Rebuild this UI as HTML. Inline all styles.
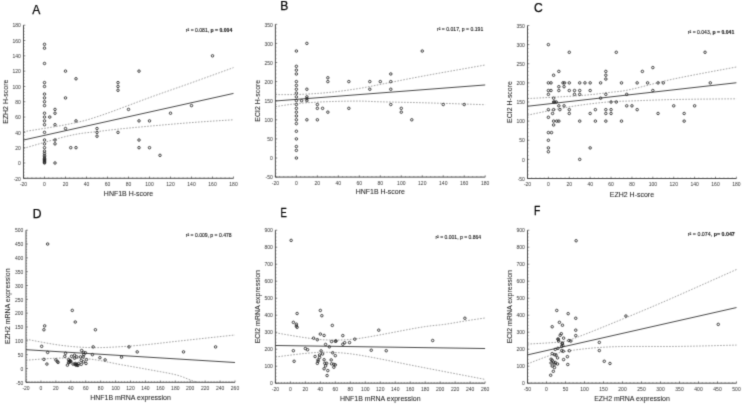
<!DOCTYPE html>
<html><head><meta charset="utf-8"><style>
html,body{margin:0;padding:0;background:#fff;}
svg{display:block;}
text{font-family:"Liberation Sans", sans-serif;fill:#222;}
.let{font-size:12.1px;fill:#000;stroke:#000;stroke-width:0.25px;}
.tl{font-size:6.2px;fill:#333;}
.at{font-size:7.4px;fill:#222;stroke:#222;stroke-width:0.06px;}
.an{font-size:5px;fill:#111;stroke:#111;stroke-width:0.1px;}
.ax{fill:none;stroke:#333;stroke-width:0.9;}
.tk{fill:none;stroke:#333;stroke-width:0.6;}
.mtk{fill:none;stroke:#555;stroke-width:0.5;}
.cb{fill:none;stroke:#777;stroke-width:0.7;stroke-dasharray:1.6 1.4;}
.rl{stroke:#333;stroke-width:0.9;}
.pt circle{fill:none;stroke:#222;stroke-width:0.85;}
</style></head><body>
<svg width="742" height="404" viewBox="0 0 742 404">
<defs><filter id="bl" x="-5" y="-5" width="752" height="414" filterUnits="userSpaceOnUse" color-interpolation-filters="sRGB"><feConvolveMatrix order="3" kernelMatrix="0.0192 0.1001 0.0192 0.1001 0.5228 0.1001 0.0192 0.1001 0.0192" divisor="1" edgeMode="duplicate"/></filter></defs>
<g filter="url(#bl)">
<rect width="742" height="404" fill="#fff"/>
<clipPath id="clipA"><rect x="23.5" y="23.2" width="211" height="155.1"/></clipPath>
<text transform="translate(32.3,13.8) scale(1,1)" class="let">A</text>
<path class="ax" d="M23.5,25.2V178.3H233.5"/>
<path class="tk" d="M23.5,178.3v-1.8M44.5,178.3v-1.8M65.5,178.3v-1.8M86.5,178.3v-1.8M107.5,178.3v-1.8M128.5,178.3v-1.8M149.5,178.3v-1.8M170.5,178.3v-1.8M191.5,178.3v-1.8M212.5,178.3v-1.8M233.5,178.3v-1.8M23.5,178.3h1.8M23.5,162.99h1.8M23.5,147.68h1.8M23.5,132.37h1.8M23.5,117.06h1.8M23.5,101.75h1.8M23.5,86.44h1.8M23.5,71.13h1.8M23.5,55.82h1.8M23.5,40.51h1.8M23.5,25.2h1.8"/>
<path class="mtk" d="M27.7,178.3v-1.1M31.9,178.3v-1.1M36.1,178.3v-1.1M40.3,178.3v-1.1M48.7,178.3v-1.1M52.9,178.3v-1.1M57.1,178.3v-1.1M61.3,178.3v-1.1M69.7,178.3v-1.1M73.9,178.3v-1.1M78.1,178.3v-1.1M82.3,178.3v-1.1M90.7,178.3v-1.1M94.9,178.3v-1.1M99.1,178.3v-1.1M103.3,178.3v-1.1M111.7,178.3v-1.1M115.9,178.3v-1.1M120.1,178.3v-1.1M124.3,178.3v-1.1M132.7,178.3v-1.1M136.9,178.3v-1.1M141.1,178.3v-1.1M145.3,178.3v-1.1M153.7,178.3v-1.1M157.9,178.3v-1.1M162.1,178.3v-1.1M166.3,178.3v-1.1M174.7,178.3v-1.1M178.9,178.3v-1.1M183.1,178.3v-1.1M187.3,178.3v-1.1M195.7,178.3v-1.1M199.9,178.3v-1.1M204.1,178.3v-1.1M208.3,178.3v-1.1M216.7,178.3v-1.1M220.9,178.3v-1.1M225.1,178.3v-1.1M229.3,178.3v-1.1M23.5,175.24h1.1M23.5,172.18h1.1M23.5,169.11h1.1M23.5,166.05h1.1M23.5,159.93h1.1M23.5,156.87h1.1M23.5,153.8h1.1M23.5,150.74h1.1M23.5,144.62h1.1M23.5,141.56h1.1M23.5,138.49h1.1M23.5,135.43h1.1M23.5,129.31h1.1M23.5,126.25h1.1M23.5,123.18h1.1M23.5,120.12h1.1M23.5,114h1.1M23.5,110.94h1.1M23.5,107.87h1.1M23.5,104.81h1.1M23.5,98.69h1.1M23.5,95.63h1.1M23.5,92.56h1.1M23.5,89.5h1.1M23.5,83.38h1.1M23.5,80.32h1.1M23.5,77.25h1.1M23.5,74.19h1.1M23.5,68.07h1.1M23.5,65.01h1.1M23.5,61.94h1.1M23.5,58.88h1.1M23.5,52.76h1.1M23.5,49.7h1.1M23.5,46.63h1.1M23.5,43.57h1.1M23.5,37.45h1.1M23.5,34.39h1.1M23.5,31.32h1.1M23.5,28.26h1.1"/>
<text class="tl" transform="translate(23.5,185.9) scale(0.81,1)" text-anchor="middle">-20</text>
<text class="tl" transform="translate(44.5,185.9) scale(0.81,1)" text-anchor="middle">0</text>
<text class="tl" transform="translate(65.5,185.9) scale(0.81,1)" text-anchor="middle">20</text>
<text class="tl" transform="translate(86.5,185.9) scale(0.81,1)" text-anchor="middle">40</text>
<text class="tl" transform="translate(107.5,185.9) scale(0.81,1)" text-anchor="middle">60</text>
<text class="tl" transform="translate(128.5,185.9) scale(0.81,1)" text-anchor="middle">80</text>
<text class="tl" transform="translate(149.5,185.9) scale(0.81,1)" text-anchor="middle">100</text>
<text class="tl" transform="translate(170.5,185.9) scale(0.81,1)" text-anchor="middle">120</text>
<text class="tl" transform="translate(191.5,185.9) scale(0.81,1)" text-anchor="middle">140</text>
<text class="tl" transform="translate(212.5,185.9) scale(0.81,1)" text-anchor="middle">160</text>
<text class="tl" transform="translate(233.5,185.9) scale(0.81,1)" text-anchor="middle">180</text>
<text class="tl" transform="translate(20.9,180.5) scale(0.81,1)" text-anchor="end">-20</text>
<text class="tl" transform="translate(20.9,165.19) scale(0.81,1)" text-anchor="end">0</text>
<text class="tl" transform="translate(20.9,149.88) scale(0.81,1)" text-anchor="end">20</text>
<text class="tl" transform="translate(20.9,134.57) scale(0.81,1)" text-anchor="end">40</text>
<text class="tl" transform="translate(20.9,119.26) scale(0.81,1)" text-anchor="end">60</text>
<text class="tl" transform="translate(20.9,103.95) scale(0.81,1)" text-anchor="end">80</text>
<text class="tl" transform="translate(20.9,88.64) scale(0.81,1)" text-anchor="end">100</text>
<text class="tl" transform="translate(20.9,73.33) scale(0.81,1)" text-anchor="end">120</text>
<text class="tl" transform="translate(20.9,58.02) scale(0.81,1)" text-anchor="end">140</text>
<text class="tl" transform="translate(20.9,42.71) scale(0.81,1)" text-anchor="end">160</text>
<text class="tl" transform="translate(20.9,27.4) scale(0.81,1)" text-anchor="end">180</text>
<text class="at" transform="translate(128.5,196.3) scale(0.945,1)" text-anchor="middle">HNF1B H-score</text>
<text class="at" transform="translate(7.9,101.75) rotate(-90) scale(0.945,1)" text-anchor="middle">EZH2 H-score</text>
<text class="an" x="185.85" y="31.7" textLength="46.4" lengthAdjust="spacingAndGlyphs">r² = 0.081, <tspan font-weight="bold">p = 0.004</tspan></text>
<g clip-path="url(#clipA)">
<polyline class="cb" points="23.5,131.7 27.2,131.1 32.25,130.3 38.27,129.36 44.89,128.3 51.75,127.18 58.47,126.05 64.67,124.94 70,123.9 74.38,122.98 78.12,122.16 81.46,121.38 84.61,120.57 87.79,119.68 91.22,118.64 95.12,117.4 99.7,115.9 105.07,114.06 111.07,111.91 117.51,109.54 124.21,107.03 130.99,104.48 137.67,101.96 144.06,99.57 150,97.4 155.47,95.44 160.64,93.6 165.6,91.86 170.43,90.17 175.2,88.51 180,86.83 184.9,85.11 190,83.3 195.57,81.31 201.65,79.12 207.97,76.84 214.25,74.57 220.22,72.41 225.6,70.46 230.12,68.82 233.5,67.6"/>
<polyline class="cb" points="23.5,148.4 27.2,147.35 32.25,145.88 38.27,144.13 44.89,142.21 51.75,140.27 58.47,138.42 64.67,136.78 70,135.5 74.52,134.55 78.61,133.82 82.37,133.25 85.9,132.8 89.3,132.43 92.67,132.08 96.1,131.72 99.7,131.3 103.2,130.86 106.4,130.46 109.48,130.08 112.62,129.72 116,129.34 119.8,128.94 124.21,128.5 129.4,128 135.61,127.42 142.78,126.76 150.61,126.05 158.84,125.32 167.17,124.6 175.33,123.9 183.03,123.26 190,122.7 196.55,122.2 203.1,121.74 209.48,121.31 215.54,120.92 221.12,120.57 226.08,120.26 230.26,120.01 233.5,119.8"/>
<line class="rl" x1="23.5" y1="140.03" x2="233.5" y2="93.41"/>
</g>
<g class="pt"><circle cx="44.5" cy="162.99" r="1.25"/><circle cx="44.5" cy="162.22" r="1.25"/><circle cx="44.5" cy="161.46" r="1.25"/><circle cx="44.5" cy="160.69" r="1.25"/><circle cx="44.5" cy="159.93" r="1.25"/><circle cx="44.5" cy="159.16" r="1.25"/><circle cx="44.5" cy="158.4" r="1.25"/><circle cx="44.5" cy="156.87" r="1.25"/><circle cx="44.5" cy="155.34" r="1.25"/><circle cx="44.5" cy="153.42" r="1.25"/><circle cx="44.5" cy="151.12" r="1.25"/><circle cx="44.5" cy="147.68" r="1.25"/><circle cx="44.5" cy="143.85" r="1.25"/><circle cx="44.5" cy="140.03" r="1.25"/><circle cx="44.5" cy="132.37" r="1.25"/><circle cx="44.5" cy="124.72" r="1.25"/><circle cx="44.5" cy="120.89" r="1.25"/><circle cx="44.5" cy="117.06" r="1.25"/><circle cx="44.5" cy="113.23" r="1.25"/><circle cx="44.5" cy="105.58" r="1.25"/><circle cx="44.5" cy="101.75" r="1.25"/><circle cx="44.5" cy="97.92" r="1.25"/><circle cx="44.5" cy="94.09" r="1.25"/><circle cx="44.5" cy="86.44" r="1.25"/><circle cx="44.5" cy="82.61" r="1.25"/><circle cx="44.5" cy="63.47" r="1.25"/><circle cx="44.5" cy="48.16" r="1.25"/><circle cx="44.5" cy="44.34" r="1.25"/><circle cx="49.75" cy="117.06" r="1.25"/><circle cx="55" cy="162.99" r="1.25"/><circle cx="55" cy="143.85" r="1.25"/><circle cx="55" cy="140.03" r="1.25"/><circle cx="55" cy="124.72" r="1.25"/><circle cx="55" cy="113.23" r="1.25"/><circle cx="55" cy="109.41" r="1.25"/><circle cx="65.5" cy="128.54" r="1.25"/><circle cx="65.5" cy="97.92" r="1.25"/><circle cx="65.5" cy="71.13" r="1.25"/><circle cx="70.75" cy="147.68" r="1.25"/><circle cx="76" cy="147.68" r="1.25"/><circle cx="76" cy="120.89" r="1.25"/><circle cx="76" cy="78.78" r="1.25"/><circle cx="97" cy="136.2" r="1.25"/><circle cx="97" cy="132.37" r="1.25"/><circle cx="97" cy="128.54" r="1.25"/><circle cx="118" cy="132.37" r="1.25"/><circle cx="118" cy="90.27" r="1.25"/><circle cx="118" cy="86.44" r="1.25"/><circle cx="118" cy="82.61" r="1.25"/><circle cx="128.5" cy="109.41" r="1.25"/><circle cx="139" cy="147.68" r="1.25"/><circle cx="139" cy="140.03" r="1.25"/><circle cx="139" cy="120.89" r="1.25"/><circle cx="139" cy="71.13" r="1.25"/><circle cx="149.5" cy="147.68" r="1.25"/><circle cx="149.5" cy="120.89" r="1.25"/><circle cx="160" cy="155.34" r="1.25"/><circle cx="170.5" cy="113.23" r="1.25"/><circle cx="191.5" cy="105.58" r="1.25"/><circle cx="212.5" cy="55.82" r="1.25"/></g>
<clipPath id="clipB"><rect x="275.4" y="22.3" width="210.8" height="154.8"/></clipPath>
<text transform="translate(280.2,10.3) scale(1,1)" class="let">B</text>
<path class="ax" d="M275.4,24.3V177.1H485.2"/>
<path class="tk" d="M275.4,177.1v-1.8M296.38,177.1v-1.8M317.36,177.1v-1.8M338.34,177.1v-1.8M359.32,177.1v-1.8M380.3,177.1v-1.8M401.28,177.1v-1.8M422.26,177.1v-1.8M443.24,177.1v-1.8M464.22,177.1v-1.8M485.2,177.1v-1.8M275.4,177.1h1.8M275.4,158h1.8M275.4,138.9h1.8M275.4,119.8h1.8M275.4,100.7h1.8M275.4,81.6h1.8M275.4,62.5h1.8M275.4,43.4h1.8M275.4,24.3h1.8"/>
<path class="mtk" d="M279.6,177.1v-1.1M283.79,177.1v-1.1M287.99,177.1v-1.1M292.18,177.1v-1.1M300.58,177.1v-1.1M304.77,177.1v-1.1M308.97,177.1v-1.1M313.16,177.1v-1.1M321.56,177.1v-1.1M325.75,177.1v-1.1M329.95,177.1v-1.1M334.14,177.1v-1.1M342.54,177.1v-1.1M346.73,177.1v-1.1M350.93,177.1v-1.1M355.12,177.1v-1.1M363.52,177.1v-1.1M367.71,177.1v-1.1M371.91,177.1v-1.1M376.1,177.1v-1.1M384.5,177.1v-1.1M388.69,177.1v-1.1M392.89,177.1v-1.1M397.08,177.1v-1.1M405.48,177.1v-1.1M409.67,177.1v-1.1M413.87,177.1v-1.1M418.06,177.1v-1.1M426.46,177.1v-1.1M430.65,177.1v-1.1M434.85,177.1v-1.1M439.04,177.1v-1.1M447.44,177.1v-1.1M451.63,177.1v-1.1M455.83,177.1v-1.1M460.02,177.1v-1.1M468.42,177.1v-1.1M472.61,177.1v-1.1M476.81,177.1v-1.1M481,177.1v-1.1M275.4,173.28h1.1M275.4,169.46h1.1M275.4,165.64h1.1M275.4,161.82h1.1M275.4,154.18h1.1M275.4,150.36h1.1M275.4,146.54h1.1M275.4,142.72h1.1M275.4,135.08h1.1M275.4,131.26h1.1M275.4,127.44h1.1M275.4,123.62h1.1M275.4,115.98h1.1M275.4,112.16h1.1M275.4,108.34h1.1M275.4,104.52h1.1M275.4,96.88h1.1M275.4,93.06h1.1M275.4,89.24h1.1M275.4,85.42h1.1M275.4,77.78h1.1M275.4,73.96h1.1M275.4,70.14h1.1M275.4,66.32h1.1M275.4,58.68h1.1M275.4,54.86h1.1M275.4,51.04h1.1M275.4,47.22h1.1M275.4,39.58h1.1M275.4,35.76h1.1M275.4,31.94h1.1M275.4,28.12h1.1"/>
<text class="tl" transform="translate(275.4,184.7) scale(0.81,1)" text-anchor="middle">-20</text>
<text class="tl" transform="translate(296.38,184.7) scale(0.81,1)" text-anchor="middle">0</text>
<text class="tl" transform="translate(317.36,184.7) scale(0.81,1)" text-anchor="middle">20</text>
<text class="tl" transform="translate(338.34,184.7) scale(0.81,1)" text-anchor="middle">40</text>
<text class="tl" transform="translate(359.32,184.7) scale(0.81,1)" text-anchor="middle">60</text>
<text class="tl" transform="translate(380.3,184.7) scale(0.81,1)" text-anchor="middle">80</text>
<text class="tl" transform="translate(401.28,184.7) scale(0.81,1)" text-anchor="middle">100</text>
<text class="tl" transform="translate(422.26,184.7) scale(0.81,1)" text-anchor="middle">120</text>
<text class="tl" transform="translate(443.24,184.7) scale(0.81,1)" text-anchor="middle">140</text>
<text class="tl" transform="translate(464.22,184.7) scale(0.81,1)" text-anchor="middle">160</text>
<text class="tl" transform="translate(485.2,184.7) scale(0.81,1)" text-anchor="middle">180</text>
<text class="tl" transform="translate(272.8,179.3) scale(0.81,1)" text-anchor="end">-50</text>
<text class="tl" transform="translate(272.8,160.2) scale(0.81,1)" text-anchor="end">0</text>
<text class="tl" transform="translate(272.8,141.1) scale(0.81,1)" text-anchor="end">50</text>
<text class="tl" transform="translate(272.8,122) scale(0.81,1)" text-anchor="end">100</text>
<text class="tl" transform="translate(272.8,102.9) scale(0.81,1)" text-anchor="end">150</text>
<text class="tl" transform="translate(272.8,83.8) scale(0.81,1)" text-anchor="end">200</text>
<text class="tl" transform="translate(272.8,64.7) scale(0.81,1)" text-anchor="end">250</text>
<text class="tl" transform="translate(272.8,45.6) scale(0.81,1)" text-anchor="end">300</text>
<text class="tl" transform="translate(272.8,26.5) scale(0.81,1)" text-anchor="end">350</text>
<text class="at" transform="translate(380.3,194.4) scale(0.945,1)" text-anchor="middle">HNF1B H-score</text>
<text class="at" transform="translate(259.8,100.7) rotate(-90) scale(0.945,1)" text-anchor="middle">ECI2 H-score</text>
<text class="an" x="437.05" y="30.9" textLength="46.2" lengthAdjust="spacingAndGlyphs">r² = 0.017, <tspan font-weight="normal">p = 0.191</tspan></text>
<g clip-path="url(#clipB)">
<polyline class="cb" points="275.4,94.6 277.26,94.6 279.7,94.61 282.6,94.62 285.84,94.62 289.32,94.62 292.91,94.58 296.51,94.51 300,94.4 303.47,94.25 307.07,94.07 310.76,93.87 314.53,93.64 318.34,93.38 322.16,93.08 325.95,92.76 329.7,92.4 333.45,92 337.27,91.55 341.11,91.07 344.93,90.56 348.71,90.02 352.4,89.48 355.98,88.94 359.4,88.4 362.52,87.89 365.31,87.39 367.91,86.91 370.46,86.41 373.11,85.87 375.98,85.29 379.24,84.64 383,83.9 387.2,83.08 391.67,82.19 396.41,81.24 401.43,80.24 406.74,79.19 412.36,78.1 418.27,76.97 424.5,75.8 431.58,74.51 439.75,73.04 448.52,71.47 457.44,69.89 466.04,68.38 473.84,67 480.39,65.85 485.2,65"/>
<polyline class="cb" points="275.4,106.6 277.26,106.33 279.7,105.97 282.6,105.53 285.84,105.06 289.32,104.57 292.91,104.09 296.51,103.66 300,103.3 303.47,103 307.07,102.73 310.76,102.49 314.53,102.28 318.34,102.08 322.16,101.9 325.95,101.74 329.7,101.6 333.47,101.47 337.34,101.36 341.24,101.27 345.12,101.2 348.93,101.15 352.61,101.11 356.12,101.1 359.4,101.1 362.25,101.13 364.63,101.18 366.74,101.26 368.77,101.36 370.92,101.46 373.38,101.58 376.34,101.69 380,101.8 384.31,101.9 389.06,102.01 394.23,102.11 399.74,102.22 405.58,102.35 411.68,102.48 418,102.63 424.5,102.8 431.73,103.01 439.96,103.26 448.74,103.53 457.63,103.81 466.17,104.09 473.91,104.34 480.41,104.55 485.2,104.7"/>
<line class="rl" x1="275.4" y1="100.97" x2="485.2" y2="84.96"/>
</g>
<g class="pt"><circle cx="296.38" cy="158" r="1.25"/><circle cx="296.38" cy="150.36" r="1.25"/><circle cx="296.38" cy="146.54" r="1.25"/><circle cx="296.38" cy="138.9" r="1.25"/><circle cx="296.38" cy="131.26" r="1.25"/><circle cx="296.38" cy="123.62" r="1.25"/><circle cx="296.38" cy="119.8" r="1.25"/><circle cx="296.38" cy="115.98" r="1.25"/><circle cx="296.38" cy="112.16" r="1.25"/><circle cx="296.38" cy="108.34" r="1.25"/><circle cx="296.38" cy="104.52" r="1.25"/><circle cx="296.38" cy="100.7" r="1.25"/><circle cx="296.38" cy="96.88" r="1.25"/><circle cx="296.38" cy="93.06" r="1.25"/><circle cx="296.38" cy="89.24" r="1.25"/><circle cx="296.38" cy="85.42" r="1.25"/><circle cx="296.38" cy="81.6" r="1.25"/><circle cx="296.38" cy="73.96" r="1.25"/><circle cx="296.38" cy="70.14" r="1.25"/><circle cx="296.38" cy="66.32" r="1.25"/><circle cx="296.38" cy="51.04" r="1.25"/><circle cx="301.62" cy="100.7" r="1.25"/><circle cx="306.87" cy="119.8" r="1.25"/><circle cx="306.87" cy="100.7" r="1.25"/><circle cx="306.87" cy="98.79" r="1.25"/><circle cx="306.87" cy="96.88" r="1.25"/><circle cx="306.87" cy="89.24" r="1.25"/><circle cx="306.87" cy="43.4" r="1.25"/><circle cx="317.36" cy="119.8" r="1.25"/><circle cx="317.36" cy="108.34" r="1.25"/><circle cx="317.36" cy="104.52" r="1.25"/><circle cx="322.6" cy="108.34" r="1.25"/><circle cx="327.85" cy="112.16" r="1.25"/><circle cx="327.85" cy="81.6" r="1.25"/><circle cx="327.85" cy="77.78" r="1.25"/><circle cx="348.83" cy="108.34" r="1.25"/><circle cx="348.83" cy="81.6" r="1.25"/><circle cx="369.81" cy="89.24" r="1.25"/><circle cx="369.81" cy="81.6" r="1.25"/><circle cx="380.3" cy="81.6" r="1.25"/><circle cx="390.79" cy="104.52" r="1.25"/><circle cx="390.79" cy="89.24" r="1.25"/><circle cx="390.79" cy="81.6" r="1.25"/><circle cx="390.79" cy="73.96" r="1.25"/><circle cx="401.28" cy="112.16" r="1.25"/><circle cx="401.28" cy="108.34" r="1.25"/><circle cx="411.77" cy="119.8" r="1.25"/><circle cx="422.26" cy="51.04" r="1.25"/><circle cx="443.24" cy="104.52" r="1.25"/><circle cx="464.22" cy="104.52" r="1.25"/></g>
<clipPath id="clipC"><rect x="527.5" y="23.5" width="209.9" height="155"/></clipPath>
<text transform="translate(534,12.2) scale(1,1)" class="let">C</text>
<path class="ax" d="M527.5,25.5V178.5H736.4"/>
<path class="tk" d="M527.5,178.5v-1.8M548.39,178.5v-1.8M569.28,178.5v-1.8M590.17,178.5v-1.8M611.06,178.5v-1.8M631.95,178.5v-1.8M652.84,178.5v-1.8M673.73,178.5v-1.8M694.62,178.5v-1.8M715.51,178.5v-1.8M736.4,178.5v-1.8M527.5,178.5h1.8M527.5,159.38h1.8M527.5,140.25h1.8M527.5,121.12h1.8M527.5,102h1.8M527.5,82.88h1.8M527.5,63.75h1.8M527.5,44.62h1.8M527.5,25.5h1.8"/>
<path class="mtk" d="M531.68,178.5v-1.1M535.86,178.5v-1.1M540.03,178.5v-1.1M544.21,178.5v-1.1M552.57,178.5v-1.1M556.75,178.5v-1.1M560.92,178.5v-1.1M565.1,178.5v-1.1M573.46,178.5v-1.1M577.64,178.5v-1.1M581.81,178.5v-1.1M585.99,178.5v-1.1M594.35,178.5v-1.1M598.53,178.5v-1.1M602.7,178.5v-1.1M606.88,178.5v-1.1M615.24,178.5v-1.1M619.42,178.5v-1.1M623.59,178.5v-1.1M627.77,178.5v-1.1M636.13,178.5v-1.1M640.31,178.5v-1.1M644.48,178.5v-1.1M648.66,178.5v-1.1M657.02,178.5v-1.1M661.2,178.5v-1.1M665.37,178.5v-1.1M669.55,178.5v-1.1M677.91,178.5v-1.1M682.09,178.5v-1.1M686.26,178.5v-1.1M690.44,178.5v-1.1M698.8,178.5v-1.1M702.98,178.5v-1.1M707.15,178.5v-1.1M711.33,178.5v-1.1M719.69,178.5v-1.1M723.87,178.5v-1.1M728.04,178.5v-1.1M732.22,178.5v-1.1M527.5,174.68h1.1M527.5,170.85h1.1M527.5,167.03h1.1M527.5,163.2h1.1M527.5,155.55h1.1M527.5,151.72h1.1M527.5,147.9h1.1M527.5,144.07h1.1M527.5,136.43h1.1M527.5,132.6h1.1M527.5,128.78h1.1M527.5,124.95h1.1M527.5,117.3h1.1M527.5,113.47h1.1M527.5,109.65h1.1M527.5,105.83h1.1M527.5,98.17h1.1M527.5,94.35h1.1M527.5,90.53h1.1M527.5,86.7h1.1M527.5,79.05h1.1M527.5,75.22h1.1M527.5,71.4h1.1M527.5,67.58h1.1M527.5,59.92h1.1M527.5,56.1h1.1M527.5,52.28h1.1M527.5,48.45h1.1M527.5,40.8h1.1M527.5,36.97h1.1M527.5,33.15h1.1M527.5,29.32h1.1"/>
<text class="tl" transform="translate(527.5,186.1) scale(0.81,1)" text-anchor="middle">-20</text>
<text class="tl" transform="translate(548.39,186.1) scale(0.81,1)" text-anchor="middle">0</text>
<text class="tl" transform="translate(569.28,186.1) scale(0.81,1)" text-anchor="middle">20</text>
<text class="tl" transform="translate(590.17,186.1) scale(0.81,1)" text-anchor="middle">40</text>
<text class="tl" transform="translate(611.06,186.1) scale(0.81,1)" text-anchor="middle">60</text>
<text class="tl" transform="translate(631.95,186.1) scale(0.81,1)" text-anchor="middle">80</text>
<text class="tl" transform="translate(652.84,186.1) scale(0.81,1)" text-anchor="middle">100</text>
<text class="tl" transform="translate(673.73,186.1) scale(0.81,1)" text-anchor="middle">120</text>
<text class="tl" transform="translate(694.62,186.1) scale(0.81,1)" text-anchor="middle">140</text>
<text class="tl" transform="translate(715.51,186.1) scale(0.81,1)" text-anchor="middle">160</text>
<text class="tl" transform="translate(736.4,186.1) scale(0.81,1)" text-anchor="middle">180</text>
<text class="tl" transform="translate(524.9,180.7) scale(0.81,1)" text-anchor="end">-50</text>
<text class="tl" transform="translate(524.9,161.57) scale(0.81,1)" text-anchor="end">0</text>
<text class="tl" transform="translate(524.9,142.45) scale(0.81,1)" text-anchor="end">50</text>
<text class="tl" transform="translate(524.9,123.33) scale(0.81,1)" text-anchor="end">100</text>
<text class="tl" transform="translate(524.9,104.2) scale(0.81,1)" text-anchor="end">150</text>
<text class="tl" transform="translate(524.9,85.08) scale(0.81,1)" text-anchor="end">200</text>
<text class="tl" transform="translate(524.9,65.95) scale(0.81,1)" text-anchor="end">250</text>
<text class="tl" transform="translate(524.9,46.83) scale(0.81,1)" text-anchor="end">300</text>
<text class="tl" transform="translate(524.9,27.7) scale(0.81,1)" text-anchor="end">350</text>
<text class="at" transform="translate(631.95,196.5) scale(0.945,1)" text-anchor="middle">EZH2 H-score</text>
<text class="at" transform="translate(511.9,102) rotate(-90) scale(0.945,1)" text-anchor="middle">ECI2 H-score</text>
<text class="an" x="687.85" y="34" textLength="46.4" lengthAdjust="spacingAndGlyphs">r² = 0.043, <tspan font-weight="bold">p = 0.041</tspan></text>
<g clip-path="url(#clipC)">
<polyline class="cb" points="527.5,98.6 531.71,98.37 537.47,98.07 544.34,97.7 551.89,97.3 559.68,96.87 567.25,96.43 574.17,96.01 580,95.6 584.87,95.21 589.25,94.8 593.22,94.4 596.86,93.99 600.25,93.58 603.47,93.18 606.59,92.78 609.7,92.4 612.52,92.09 614.87,91.86 616.94,91.67 618.93,91.48 621.03,91.22 623.44,90.85 626.37,90.33 630,89.6 634.29,88.64 639.02,87.49 644.15,86.18 649.65,84.76 655.47,83.27 661.58,81.76 667.94,80.25 674.5,78.8 681.83,77.29 690.2,75.64 699.16,73.93 708.23,72.23 716.96,70.6 724.87,69.14 731.51,67.92 736.4,67"/>
<polyline class="cb" points="527.5,115.2 529.64,114.75 532.5,114.14 535.91,113.42 539.69,112.62 543.66,111.79 547.66,110.96 551.49,110.18 555,109.5 558.21,108.89 561.32,108.31 564.35,107.75 567.36,107.21 570.39,106.69 573.48,106.18 576.67,105.68 580,105.2 583.55,104.71 587.31,104.23 591.21,103.74 595.14,103.28 599.04,102.85 602.83,102.45 606.41,102.09 609.7,101.8 612.52,101.58 614.87,101.43 616.94,101.34 618.93,101.28 621.03,101.24 623.44,101.19 626.37,101.12 630,101 634.29,100.84 639.02,100.66 644.15,100.45 649.65,100.24 655.47,100.03 661.58,99.84 667.94,99.65 674.5,99.5 681.83,99.37 690.2,99.25 699.16,99.15 708.23,99.06 716.96,98.98 724.87,98.91 731.51,98.85 736.4,98.8"/>
<line class="rl" x1="527.5" y1="106.25" x2="736.4" y2="82.76"/>
</g>
<g class="pt"><circle cx="548.39" cy="44.62" r="1.25"/><circle cx="569.28" cy="52.28" r="1.25"/><circle cx="616.28" cy="52.28" r="1.25"/><circle cx="705.06" cy="52.28" r="1.25"/><circle cx="652.84" cy="67.58" r="1.25"/><circle cx="558.84" cy="71.4" r="1.25"/><circle cx="605.84" cy="71.4" r="1.25"/><circle cx="642.39" cy="71.4" r="1.25"/><circle cx="553.61" cy="75.22" r="1.25"/><circle cx="605.84" cy="75.22" r="1.25"/><circle cx="605.84" cy="79.05" r="1.25"/><circle cx="548.39" cy="82.88" r="1.25"/><circle cx="551" cy="82.88" r="1.25"/><circle cx="563.01" cy="82.88" r="1.25"/><circle cx="564.58" cy="82.88" r="1.25"/><circle cx="569.28" cy="82.88" r="1.25"/><circle cx="579.73" cy="82.88" r="1.25"/><circle cx="584.95" cy="82.88" r="1.25"/><circle cx="590.17" cy="82.88" r="1.25"/><circle cx="600.62" cy="82.88" r="1.25"/><circle cx="621.5" cy="82.88" r="1.25"/><circle cx="637.17" cy="82.88" r="1.25"/><circle cx="647.62" cy="82.88" r="1.25"/><circle cx="658.06" cy="82.88" r="1.25"/><circle cx="663.28" cy="82.88" r="1.25"/><circle cx="710.29" cy="82.88" r="1.25"/><circle cx="558.84" cy="86.7" r="1.25"/><circle cx="564.06" cy="86.7" r="1.25"/><circle cx="548.39" cy="90.53" r="1.25"/><circle cx="551" cy="90.53" r="1.25"/><circle cx="558.84" cy="90.53" r="1.25"/><circle cx="569.28" cy="90.53" r="1.25"/><circle cx="574.5" cy="90.53" r="1.25"/><circle cx="579.73" cy="90.53" r="1.25"/><circle cx="590.17" cy="90.53" r="1.25"/><circle cx="652.84" cy="90.53" r="1.25"/><circle cx="548.39" cy="94.35" r="1.25"/><circle cx="574.5" cy="94.35" r="1.25"/><circle cx="579.73" cy="94.35" r="1.25"/><circle cx="605.84" cy="94.35" r="1.25"/><circle cx="626.73" cy="94.35" r="1.25"/><circle cx="553.61" cy="98.17" r="1.25"/><circle cx="600.62" cy="98.17" r="1.25"/><circle cx="553.61" cy="102" r="1.25"/><circle cx="554.66" cy="102" r="1.25"/><circle cx="556.22" cy="102" r="1.25"/><circle cx="611.06" cy="102" r="1.25"/><circle cx="616.28" cy="102" r="1.25"/><circle cx="558.84" cy="105.83" r="1.25"/><circle cx="564.06" cy="105.83" r="1.25"/><circle cx="626.73" cy="105.83" r="1.25"/><circle cx="631.95" cy="105.83" r="1.25"/><circle cx="673.73" cy="105.83" r="1.25"/><circle cx="694.62" cy="105.83" r="1.25"/><circle cx="548.39" cy="109.65" r="1.25"/><circle cx="553.61" cy="109.65" r="1.25"/><circle cx="559.88" cy="109.65" r="1.25"/><circle cx="569.28" cy="109.65" r="1.25"/><circle cx="595.39" cy="109.65" r="1.25"/><circle cx="605.84" cy="109.65" r="1.25"/><circle cx="611.06" cy="109.65" r="1.25"/><circle cx="637.17" cy="109.65" r="1.25"/><circle cx="552.57" cy="113.47" r="1.25"/><circle cx="569.28" cy="113.47" r="1.25"/><circle cx="590.17" cy="113.47" r="1.25"/><circle cx="605.84" cy="113.47" r="1.25"/><circle cx="611.06" cy="113.47" r="1.25"/><circle cx="658.06" cy="113.47" r="1.25"/><circle cx="684.17" cy="113.47" r="1.25"/><circle cx="548.39" cy="117.3" r="1.25"/><circle cx="553.61" cy="121.12" r="1.25"/><circle cx="556.75" cy="121.12" r="1.25"/><circle cx="558.84" cy="121.12" r="1.25"/><circle cx="579.73" cy="121.12" r="1.25"/><circle cx="595.39" cy="121.12" r="1.25"/><circle cx="605.84" cy="121.12" r="1.25"/><circle cx="621.5" cy="121.12" r="1.25"/><circle cx="684.17" cy="121.12" r="1.25"/><circle cx="553.61" cy="124.95" r="1.25"/><circle cx="548.39" cy="132.6" r="1.25"/><circle cx="551.52" cy="132.6" r="1.25"/><circle cx="548.39" cy="140.25" r="1.25"/><circle cx="548.39" cy="147.9" r="1.25"/><circle cx="590.17" cy="147.9" r="1.25"/><circle cx="548.39" cy="151.72" r="1.25"/><circle cx="579.73" cy="159.38" r="1.25"/></g>
<clipPath id="clipD"><rect x="26" y="228.2" width="210" height="154.1"/></clipPath>
<text transform="translate(32.8,218.1) scale(1,1)" class="let">D</text>
<path class="ax" d="M26,230.2V382.3H235"/>
<path class="tk" d="M26,382.3v-1.8M40.93,382.3v-1.8M55.86,382.3v-1.8M70.79,382.3v-1.8M85.71,382.3v-1.8M100.64,382.3v-1.8M115.57,382.3v-1.8M130.5,382.3v-1.8M145.43,382.3v-1.8M160.36,382.3v-1.8M175.29,382.3v-1.8M190.21,382.3v-1.8M205.14,382.3v-1.8M220.07,382.3v-1.8M235,382.3v-1.8M26,382.3h1.8M26,368.47h1.8M26,354.65h1.8M26,340.82h1.8M26,326.99h1.8M26,313.16h1.8M26,299.34h1.8M26,285.51h1.8M26,271.68h1.8M26,257.85h1.8M26,244.03h1.8M26,230.2h1.8"/>
<path class="mtk" d="M28.99,382.3v-1.1M31.97,382.3v-1.1M34.96,382.3v-1.1M37.94,382.3v-1.1M43.91,382.3v-1.1M46.9,382.3v-1.1M49.89,382.3v-1.1M52.87,382.3v-1.1M58.84,382.3v-1.1M61.83,382.3v-1.1M64.81,382.3v-1.1M67.8,382.3v-1.1M73.77,382.3v-1.1M76.76,382.3v-1.1M79.74,382.3v-1.1M82.73,382.3v-1.1M88.7,382.3v-1.1M91.69,382.3v-1.1M94.67,382.3v-1.1M97.66,382.3v-1.1M103.63,382.3v-1.1M106.61,382.3v-1.1M109.6,382.3v-1.1M112.59,382.3v-1.1M118.56,382.3v-1.1M121.54,382.3v-1.1M124.53,382.3v-1.1M127.51,382.3v-1.1M133.49,382.3v-1.1M136.47,382.3v-1.1M139.46,382.3v-1.1M142.44,382.3v-1.1M148.41,382.3v-1.1M151.4,382.3v-1.1M154.39,382.3v-1.1M157.37,382.3v-1.1M163.34,382.3v-1.1M166.33,382.3v-1.1M169.31,382.3v-1.1M172.3,382.3v-1.1M178.27,382.3v-1.1M181.26,382.3v-1.1M184.24,382.3v-1.1M187.23,382.3v-1.1M193.2,382.3v-1.1M196.19,382.3v-1.1M199.17,382.3v-1.1M202.16,382.3v-1.1M208.13,382.3v-1.1M211.11,382.3v-1.1M214.1,382.3v-1.1M217.09,382.3v-1.1M223.06,382.3v-1.1M226.04,382.3v-1.1M229.03,382.3v-1.1M232.01,382.3v-1.1M26,379.53h1.1M26,376.77h1.1M26,374h1.1M26,371.24h1.1M26,365.71h1.1M26,362.94h1.1M26,360.18h1.1M26,357.41h1.1M26,351.88h1.1M26,349.11h1.1M26,346.35h1.1M26,343.58h1.1M26,338.05h1.1M26,335.29h1.1M26,332.52h1.1M26,329.76h1.1M26,324.23h1.1M26,321.46h1.1M26,318.69h1.1M26,315.93h1.1M26,310.4h1.1M26,307.63h1.1M26,304.87h1.1M26,302.1h1.1M26,296.57h1.1M26,293.81h1.1M26,291.04h1.1M26,288.27h1.1M26,282.74h1.1M26,279.98h1.1M26,277.21h1.1M26,274.45h1.1M26,268.92h1.1M26,266.15h1.1M26,263.39h1.1M26,260.62h1.1M26,255.09h1.1M26,252.32h1.1M26,249.56h1.1M26,246.79h1.1M26,241.26h1.1M26,238.5h1.1M26,235.73h1.1M26,232.97h1.1"/>
<text class="tl" transform="translate(26,389.9) scale(0.81,1)" text-anchor="middle">-20</text>
<text class="tl" transform="translate(40.93,389.9) scale(0.81,1)" text-anchor="middle">0</text>
<text class="tl" transform="translate(55.86,389.9) scale(0.81,1)" text-anchor="middle">20</text>
<text class="tl" transform="translate(70.79,389.9) scale(0.81,1)" text-anchor="middle">40</text>
<text class="tl" transform="translate(85.71,389.9) scale(0.81,1)" text-anchor="middle">60</text>
<text class="tl" transform="translate(100.64,389.9) scale(0.81,1)" text-anchor="middle">80</text>
<text class="tl" transform="translate(115.57,389.9) scale(0.81,1)" text-anchor="middle">100</text>
<text class="tl" transform="translate(130.5,389.9) scale(0.81,1)" text-anchor="middle">120</text>
<text class="tl" transform="translate(145.43,389.9) scale(0.81,1)" text-anchor="middle">140</text>
<text class="tl" transform="translate(160.36,389.9) scale(0.81,1)" text-anchor="middle">160</text>
<text class="tl" transform="translate(175.29,389.9) scale(0.81,1)" text-anchor="middle">180</text>
<text class="tl" transform="translate(190.21,389.9) scale(0.81,1)" text-anchor="middle">200</text>
<text class="tl" transform="translate(205.14,389.9) scale(0.81,1)" text-anchor="middle">220</text>
<text class="tl" transform="translate(220.07,389.9) scale(0.81,1)" text-anchor="middle">240</text>
<text class="tl" transform="translate(235,389.9) scale(0.81,1)" text-anchor="middle">260</text>
<text class="tl" transform="translate(23.4,384.5) scale(0.81,1)" text-anchor="end">-50</text>
<text class="tl" transform="translate(23.4,370.67) scale(0.81,1)" text-anchor="end">0</text>
<text class="tl" transform="translate(23.4,356.85) scale(0.81,1)" text-anchor="end">50</text>
<text class="tl" transform="translate(23.4,343.02) scale(0.81,1)" text-anchor="end">100</text>
<text class="tl" transform="translate(23.4,329.19) scale(0.81,1)" text-anchor="end">150</text>
<text class="tl" transform="translate(23.4,315.36) scale(0.81,1)" text-anchor="end">200</text>
<text class="tl" transform="translate(23.4,301.54) scale(0.81,1)" text-anchor="end">250</text>
<text class="tl" transform="translate(23.4,287.71) scale(0.81,1)" text-anchor="end">300</text>
<text class="tl" transform="translate(23.4,273.88) scale(0.81,1)" text-anchor="end">350</text>
<text class="tl" transform="translate(23.4,260.05) scale(0.81,1)" text-anchor="end">400</text>
<text class="tl" transform="translate(23.4,246.23) scale(0.81,1)" text-anchor="end">450</text>
<text class="tl" transform="translate(23.4,232.4) scale(0.81,1)" text-anchor="end">500</text>
<text class="at" transform="translate(130.5,400.3) scale(0.945,1)" text-anchor="middle">HNF1B mRNA expression</text>
<text class="at" transform="translate(10.4,306.25) rotate(-90) scale(0.945,1)" text-anchor="middle">EZH2 mRNA expression</text>
<text class="an" x="185.85" y="236.7" textLength="45.7" lengthAdjust="spacingAndGlyphs">r² = 0.009, p = 0.478</text>
<g clip-path="url(#clipD)">
<polyline class="cb" points="26,339.2 28.65,339.69 32.2,340.36 36.42,341.17 41.11,342.05 46.03,342.95 50.96,343.81 55.69,344.58 60,345.2 63.96,345.69 67.84,346.13 71.63,346.51 75.38,346.83 79.1,347.1 82.81,347.32 86.54,347.48 90.3,347.6 94.1,347.66 97.9,347.64 101.71,347.57 105.52,347.45 109.32,347.29 113.1,347.11 116.87,346.91 120.6,346.7 124.32,346.48 128.03,346.22 131.74,345.94 135.42,345.63 139.07,345.31 142.69,344.98 146.27,344.64 149.8,344.3 153.05,343.98 155.93,343.67 158.64,343.36 161.38,343.04 164.34,342.69 167.73,342.3 171.75,341.84 176.6,341.3 182.79,340.63 190.35,339.81 198.75,338.9 207.47,337.96 215.99,337.05 223.77,336.21 230.28,335.51 235,335"/>
<polyline class="cb" points="26,360.2 28.65,360.02 32.2,359.75 36.42,359.43 41.11,359.09 46.03,358.75 50.96,358.46 55.69,358.23 60,358.1 63.96,358.05 67.84,358.03 71.63,358.05 75.38,358.13 79.1,358.26 82.81,358.46 86.54,358.74 90.3,359.1 94.1,359.57 97.9,360.17 101.71,360.85 105.52,361.59 109.32,362.36 113.1,363.14 116.87,363.9 120.6,364.6 124.32,365.26 128.03,365.92 131.74,366.57 135.42,367.22 139.07,367.86 142.69,368.51 146.27,369.15 149.8,369.8 153.32,370.44 156.84,371.06 160.35,371.68 163.81,372.3 167.2,372.93 170.48,373.59 173.62,374.27 176.6,375 179.25,375.75 181.51,376.51 183.56,377.28 185.54,378.09 187.61,378.93 189.95,379.82 192.69,380.78 196,381.8 200.2,382.98 205.29,384.35 210.9,385.82 216.71,387.33 222.37,388.77 227.53,390.09 231.86,391.19 235,392"/>
<line class="rl" x1="26" y1="349.7" x2="235" y2="362.5"/>
</g>
<g class="pt"><circle cx="47.65" cy="244.03" r="1.25"/><circle cx="72.28" cy="310.4" r="1.25"/><circle cx="75.26" cy="322.01" r="1.25"/><circle cx="44.66" cy="325.88" r="1.25"/><circle cx="43.91" cy="329.76" r="1.25"/><circle cx="95.42" cy="329.76" r="1.25"/><circle cx="41.67" cy="346.35" r="1.25"/><circle cx="47.65" cy="352.43" r="1.25"/><circle cx="43.91" cy="359.35" r="1.25"/><circle cx="46.9" cy="364.05" r="1.25"/><circle cx="55.86" cy="359.9" r="1.25"/><circle cx="57.35" cy="361.56" r="1.25"/><circle cx="58.1" cy="362.39" r="1.25"/><circle cx="93.18" cy="346.9" r="1.25"/><circle cx="92.43" cy="354.65" r="1.25"/><circle cx="99.9" cy="357.69" r="1.25"/><circle cx="105.12" cy="359.9" r="1.25"/><circle cx="121.54" cy="357.13" r="1.25"/><circle cx="129.01" cy="346.9" r="1.25"/><circle cx="137.22" cy="351.88" r="1.25"/><circle cx="183.5" cy="351.88" r="1.25"/><circle cx="215.59" cy="346.9" r="1.25"/><circle cx="65.56" cy="353.26" r="1.25"/><circle cx="64.81" cy="356.3" r="1.25"/><circle cx="71.53" cy="356.3" r="1.25"/><circle cx="74.52" cy="355.2" r="1.25"/><circle cx="74.52" cy="358.24" r="1.25"/><circle cx="76.76" cy="356.86" r="1.25"/><circle cx="68.55" cy="359.62" r="1.25"/><circle cx="70.04" cy="360.73" r="1.25"/><circle cx="70.79" cy="361.28" r="1.25"/><circle cx="68.55" cy="362.67" r="1.25"/><circle cx="67.43" cy="365.15" r="1.25"/><circle cx="73.03" cy="364.05" r="1.25"/><circle cx="75.26" cy="363.49" r="1.25"/><circle cx="76.76" cy="364.32" r="1.25"/><circle cx="77.88" cy="365.43" r="1.25"/><circle cx="78.62" cy="363.49" r="1.25"/><circle cx="81.61" cy="350.5" r="1.25"/><circle cx="83.47" cy="352.43" r="1.25"/><circle cx="85.42" cy="352.71" r="1.25"/><circle cx="83.77" cy="354.65" r="1.25"/><circle cx="80.49" cy="356.86" r="1.25"/><circle cx="83.18" cy="356.86" r="1.25"/><circle cx="81.24" cy="360.45" r="1.25"/><circle cx="86.46" cy="359.62" r="1.25"/><circle cx="83.47" cy="361.84" r="1.25"/><circle cx="86.01" cy="363.49" r="1.25"/><circle cx="81.24" cy="364.32" r="1.25"/><circle cx="69.29" cy="361.01" r="1.25"/><circle cx="70.41" cy="361.56" r="1.25"/><circle cx="75.26" cy="364.6" r="1.25"/><circle cx="76.01" cy="365.02" r="1.25"/><circle cx="77.13" cy="364.88" r="1.25"/><circle cx="69.29" cy="362.39" r="1.25"/></g>
<clipPath id="clipE"><rect x="275.4" y="228.2" width="210.7" height="155"/></clipPath>
<text transform="translate(280.5,216.6) scale(0.78,1)" class="let">E</text>
<path class="ax" d="M275.4,230.2V383.2H485.1"/>
<path class="tk" d="M275.4,383.2v-1.8M290.38,383.2v-1.8M305.36,383.2v-1.8M320.34,383.2v-1.8M335.31,383.2v-1.8M350.29,383.2v-1.8M365.27,383.2v-1.8M380.25,383.2v-1.8M395.23,383.2v-1.8M410.21,383.2v-1.8M425.19,383.2v-1.8M440.16,383.2v-1.8M455.14,383.2v-1.8M470.12,383.2v-1.8M485.1,383.2v-1.8M275.4,383.2h1.8M275.4,366.2h1.8M275.4,349.2h1.8M275.4,332.2h1.8M275.4,315.2h1.8M275.4,298.2h1.8M275.4,281.2h1.8M275.4,264.2h1.8M275.4,247.2h1.8M275.4,230.2h1.8"/>
<path class="mtk" d="M278.4,383.2v-1.1M281.39,383.2v-1.1M284.39,383.2v-1.1M287.38,383.2v-1.1M293.37,383.2v-1.1M296.37,383.2v-1.1M299.37,383.2v-1.1M302.36,383.2v-1.1M308.35,383.2v-1.1M311.35,383.2v-1.1M314.34,383.2v-1.1M317.34,383.2v-1.1M323.33,383.2v-1.1M326.33,383.2v-1.1M329.32,383.2v-1.1M332.32,383.2v-1.1M338.31,383.2v-1.1M341.31,383.2v-1.1M344.3,383.2v-1.1M347.3,383.2v-1.1M353.29,383.2v-1.1M356.28,383.2v-1.1M359.28,383.2v-1.1M362.28,383.2v-1.1M368.27,383.2v-1.1M371.26,383.2v-1.1M374.26,383.2v-1.1M377.25,383.2v-1.1M383.25,383.2v-1.1M386.24,383.2v-1.1M389.24,383.2v-1.1M392.23,383.2v-1.1M398.22,383.2v-1.1M401.22,383.2v-1.1M404.22,383.2v-1.1M407.21,383.2v-1.1M413.2,383.2v-1.1M416.2,383.2v-1.1M419.19,383.2v-1.1M422.19,383.2v-1.1M428.18,383.2v-1.1M431.18,383.2v-1.1M434.17,383.2v-1.1M437.17,383.2v-1.1M443.16,383.2v-1.1M446.16,383.2v-1.1M449.15,383.2v-1.1M452.15,383.2v-1.1M458.14,383.2v-1.1M461.13,383.2v-1.1M464.13,383.2v-1.1M467.13,383.2v-1.1M473.12,383.2v-1.1M476.11,383.2v-1.1M479.11,383.2v-1.1M482.1,383.2v-1.1M275.4,379.8h1.1M275.4,376.4h1.1M275.4,373h1.1M275.4,369.6h1.1M275.4,362.8h1.1M275.4,359.4h1.1M275.4,356h1.1M275.4,352.6h1.1M275.4,345.8h1.1M275.4,342.4h1.1M275.4,339h1.1M275.4,335.6h1.1M275.4,328.8h1.1M275.4,325.4h1.1M275.4,322h1.1M275.4,318.6h1.1M275.4,311.8h1.1M275.4,308.4h1.1M275.4,305h1.1M275.4,301.6h1.1M275.4,294.8h1.1M275.4,291.4h1.1M275.4,288h1.1M275.4,284.6h1.1M275.4,277.8h1.1M275.4,274.4h1.1M275.4,271h1.1M275.4,267.6h1.1M275.4,260.8h1.1M275.4,257.4h1.1M275.4,254h1.1M275.4,250.6h1.1M275.4,243.8h1.1M275.4,240.4h1.1M275.4,237h1.1M275.4,233.6h1.1"/>
<text class="tl" transform="translate(275.4,390.8) scale(0.81,1)" text-anchor="middle">-20</text>
<text class="tl" transform="translate(290.38,390.8) scale(0.81,1)" text-anchor="middle">0</text>
<text class="tl" transform="translate(305.36,390.8) scale(0.81,1)" text-anchor="middle">20</text>
<text class="tl" transform="translate(320.34,390.8) scale(0.81,1)" text-anchor="middle">40</text>
<text class="tl" transform="translate(335.31,390.8) scale(0.81,1)" text-anchor="middle">60</text>
<text class="tl" transform="translate(350.29,390.8) scale(0.81,1)" text-anchor="middle">80</text>
<text class="tl" transform="translate(365.27,390.8) scale(0.81,1)" text-anchor="middle">100</text>
<text class="tl" transform="translate(380.25,390.8) scale(0.81,1)" text-anchor="middle">120</text>
<text class="tl" transform="translate(395.23,390.8) scale(0.81,1)" text-anchor="middle">140</text>
<text class="tl" transform="translate(410.21,390.8) scale(0.81,1)" text-anchor="middle">160</text>
<text class="tl" transform="translate(425.19,390.8) scale(0.81,1)" text-anchor="middle">180</text>
<text class="tl" transform="translate(440.16,390.8) scale(0.81,1)" text-anchor="middle">200</text>
<text class="tl" transform="translate(455.14,390.8) scale(0.81,1)" text-anchor="middle">220</text>
<text class="tl" transform="translate(470.12,390.8) scale(0.81,1)" text-anchor="middle">240</text>
<text class="tl" transform="translate(485.1,390.8) scale(0.81,1)" text-anchor="middle">260</text>
<text class="tl" transform="translate(272.8,385.4) scale(0.81,1)" text-anchor="end">0</text>
<text class="tl" transform="translate(272.8,368.4) scale(0.81,1)" text-anchor="end">100</text>
<text class="tl" transform="translate(272.8,351.4) scale(0.81,1)" text-anchor="end">200</text>
<text class="tl" transform="translate(272.8,334.4) scale(0.81,1)" text-anchor="end">300</text>
<text class="tl" transform="translate(272.8,317.4) scale(0.81,1)" text-anchor="end">400</text>
<text class="tl" transform="translate(272.8,300.4) scale(0.81,1)" text-anchor="end">500</text>
<text class="tl" transform="translate(272.8,283.4) scale(0.81,1)" text-anchor="end">600</text>
<text class="tl" transform="translate(272.8,266.4) scale(0.81,1)" text-anchor="end">700</text>
<text class="tl" transform="translate(272.8,249.4) scale(0.81,1)" text-anchor="end">800</text>
<text class="tl" transform="translate(272.8,232.4) scale(0.81,1)" text-anchor="end">900</text>
<text class="at" transform="translate(380.25,401.2) scale(0.945,1)" text-anchor="middle">HNF1B mRNA expression</text>
<text class="at" transform="translate(259.8,306.7) rotate(-90) scale(0.945,1)" text-anchor="middle">ECI2 mRNA expression</text>
<text class="an" x="435.45" y="238.5" textLength="45.7" lengthAdjust="spacingAndGlyphs">r² = 0.001, p = 0.864</text>
<g clip-path="url(#clipE)">
<polyline class="cb" points="275.4,332.8 277.94,333.22 281.38,333.81 285.48,334.51 290.01,335.28 294.7,336.06 299.33,336.8 303.65,337.47 307.4,338 310.6,338.43 313.47,338.81 316.12,339.15 318.66,339.43 321.18,339.66 323.79,339.84 326.6,339.95 329.7,340 332.9,340.03 336.02,340.05 339.17,340.04 342.49,339.96 346.11,339.77 350.15,339.46 354.74,338.98 360,338.3 366.32,337.32 373.73,336.04 381.86,334.54 390.33,332.94 398.76,331.32 406.76,329.79 413.97,328.45 420,327.4 424.82,326.64 428.77,326.09 432.06,325.69 434.86,325.4 437.36,325.16 439.76,324.93 442.24,324.66 445,324.3 447.95,323.86 450.87,323.39 453.76,322.91 456.6,322.42 459.39,321.93 462.1,321.46 464.75,321.01 467.3,320.6 469.86,320.2 472.48,319.81 475.09,319.43 477.59,319.07 479.93,318.74 482.01,318.44 483.76,318.19 485.1,318"/>
<polyline class="cb" points="275.4,357 277.94,356.69 281.38,356.25 285.48,355.73 290.01,355.16 294.7,354.58 299.33,354.04 303.65,353.56 307.4,353.2 310.6,352.92 313.47,352.68 316.12,352.48 318.66,352.33 321.18,352.23 323.79,352.19 326.6,352.21 329.7,352.3 332.9,352.42 336.02,352.55 339.17,352.72 342.49,352.96 346.11,353.3 350.15,353.77 354.74,354.39 360,355.2 366.04,356.24 372.79,357.49 380.1,358.91 387.82,360.45 395.82,362.07 403.95,363.71 412.05,365.34 420,366.9 428.34,368.51 437.44,370.26 446.9,372.08 456.3,373.88 465.23,375.59 473.28,377.14 480.04,378.43 485.1,379.4"/>
<line class="rl" x1="275.4" y1="345.49" x2="485.1" y2="348.52"/>
</g>
<g class="pt"><circle cx="291.13" cy="240.4" r="1.25"/><circle cx="297.12" cy="313.5" r="1.25"/><circle cx="320.34" cy="310.44" r="1.25"/><circle cx="321.83" cy="315.71" r="1.25"/><circle cx="293.37" cy="322.34" r="1.25"/><circle cx="296.37" cy="324.21" r="1.25"/><circle cx="296.37" cy="326.08" r="1.25"/><circle cx="297.12" cy="327.27" r="1.25"/><circle cx="332.32" cy="325.4" r="1.25"/><circle cx="320.34" cy="334.07" r="1.25"/><circle cx="324.08" cy="335.43" r="1.25"/><circle cx="313.6" cy="338.15" r="1.25"/><circle cx="317.34" cy="339.68" r="1.25"/><circle cx="331.57" cy="341.55" r="1.25"/><circle cx="335.31" cy="341.21" r="1.25"/><circle cx="325.58" cy="344.44" r="1.25"/><circle cx="329.32" cy="346.82" r="1.25"/><circle cx="293.37" cy="350.73" r="1.25"/><circle cx="294.12" cy="361.27" r="1.25"/><circle cx="305.36" cy="348.52" r="1.25"/><circle cx="307.6" cy="349.71" r="1.25"/><circle cx="321.08" cy="350.9" r="1.25"/><circle cx="322.58" cy="353.96" r="1.25"/><circle cx="319.59" cy="354.98" r="1.25"/><circle cx="319.59" cy="357.36" r="1.25"/><circle cx="315.09" cy="356.51" r="1.25"/><circle cx="318.09" cy="359.91" r="1.25"/><circle cx="318.09" cy="361.27" r="1.25"/><circle cx="317.34" cy="363.31" r="1.25"/><circle cx="324.08" cy="359.74" r="1.25"/><circle cx="324.83" cy="363.31" r="1.25"/><circle cx="326.7" cy="363.31" r="1.25"/><circle cx="325.58" cy="365.86" r="1.25"/><circle cx="324.08" cy="368.75" r="1.25"/><circle cx="327.82" cy="370.62" r="1.25"/><circle cx="327.08" cy="375.55" r="1.25"/><circle cx="331.2" cy="359.91" r="1.25"/><circle cx="331.57" cy="363.82" r="1.25"/><circle cx="333.82" cy="364.33" r="1.25"/><circle cx="335.31" cy="364.84" r="1.25"/><circle cx="333.82" cy="367.22" r="1.25"/><circle cx="332.69" cy="352.77" r="1.25"/><circle cx="335.31" cy="355.66" r="1.25"/><circle cx="342.8" cy="335.6" r="1.25"/><circle cx="342.8" cy="344.27" r="1.25"/><circle cx="344.68" cy="342.74" r="1.25"/><circle cx="349.54" cy="342.57" r="1.25"/><circle cx="354.79" cy="339.17" r="1.25"/><circle cx="378.75" cy="330.16" r="1.25"/><circle cx="371.26" cy="350.22" r="1.25"/><circle cx="386.24" cy="350.73" r="1.25"/><circle cx="432.68" cy="340.53" r="1.25"/><circle cx="464.88" cy="318.26" r="1.25"/><circle cx="336.06" cy="341.04" r="1.25"/></g>
<clipPath id="clipF"><rect x="527.5" y="228.2" width="210" height="155"/></clipPath>
<text transform="translate(534.1,215.2) scale(0.86,1)" class="let">F</text>
<path class="ax" d="M527.5,230.2V383.2H736.5"/>
<path class="tk" d="M527.5,383.2v-1.8M546.5,383.2v-1.8M565.5,383.2v-1.8M584.5,383.2v-1.8M603.5,383.2v-1.8M622.5,383.2v-1.8M641.5,383.2v-1.8M660.5,383.2v-1.8M679.5,383.2v-1.8M698.5,383.2v-1.8M717.5,383.2v-1.8M736.5,383.2v-1.8M527.5,383.2h1.8M527.5,366.2h1.8M527.5,349.2h1.8M527.5,332.2h1.8M527.5,315.2h1.8M527.5,298.2h1.8M527.5,281.2h1.8M527.5,264.2h1.8M527.5,247.2h1.8M527.5,230.2h1.8"/>
<path class="mtk" d="M531.3,383.2v-1.1M535.1,383.2v-1.1M538.9,383.2v-1.1M542.7,383.2v-1.1M550.3,383.2v-1.1M554.1,383.2v-1.1M557.9,383.2v-1.1M561.7,383.2v-1.1M569.3,383.2v-1.1M573.1,383.2v-1.1M576.9,383.2v-1.1M580.7,383.2v-1.1M588.3,383.2v-1.1M592.1,383.2v-1.1M595.9,383.2v-1.1M599.7,383.2v-1.1M607.3,383.2v-1.1M611.1,383.2v-1.1M614.9,383.2v-1.1M618.7,383.2v-1.1M626.3,383.2v-1.1M630.1,383.2v-1.1M633.9,383.2v-1.1M637.7,383.2v-1.1M645.3,383.2v-1.1M649.1,383.2v-1.1M652.9,383.2v-1.1M656.7,383.2v-1.1M664.3,383.2v-1.1M668.1,383.2v-1.1M671.9,383.2v-1.1M675.7,383.2v-1.1M683.3,383.2v-1.1M687.1,383.2v-1.1M690.9,383.2v-1.1M694.7,383.2v-1.1M702.3,383.2v-1.1M706.1,383.2v-1.1M709.9,383.2v-1.1M713.7,383.2v-1.1M721.3,383.2v-1.1M725.1,383.2v-1.1M728.9,383.2v-1.1M732.7,383.2v-1.1M527.5,379.8h1.1M527.5,376.4h1.1M527.5,373h1.1M527.5,369.6h1.1M527.5,362.8h1.1M527.5,359.4h1.1M527.5,356h1.1M527.5,352.6h1.1M527.5,345.8h1.1M527.5,342.4h1.1M527.5,339h1.1M527.5,335.6h1.1M527.5,328.8h1.1M527.5,325.4h1.1M527.5,322h1.1M527.5,318.6h1.1M527.5,311.8h1.1M527.5,308.4h1.1M527.5,305h1.1M527.5,301.6h1.1M527.5,294.8h1.1M527.5,291.4h1.1M527.5,288h1.1M527.5,284.6h1.1M527.5,277.8h1.1M527.5,274.4h1.1M527.5,271h1.1M527.5,267.6h1.1M527.5,260.8h1.1M527.5,257.4h1.1M527.5,254h1.1M527.5,250.6h1.1M527.5,243.8h1.1M527.5,240.4h1.1M527.5,237h1.1M527.5,233.6h1.1"/>
<text class="tl" transform="translate(527.5,390.8) scale(0.81,1)" text-anchor="middle">-50</text>
<text class="tl" transform="translate(546.5,390.8) scale(0.81,1)" text-anchor="middle">0</text>
<text class="tl" transform="translate(565.5,390.8) scale(0.81,1)" text-anchor="middle">50</text>
<text class="tl" transform="translate(584.5,390.8) scale(0.81,1)" text-anchor="middle">100</text>
<text class="tl" transform="translate(603.5,390.8) scale(0.81,1)" text-anchor="middle">150</text>
<text class="tl" transform="translate(622.5,390.8) scale(0.81,1)" text-anchor="middle">200</text>
<text class="tl" transform="translate(641.5,390.8) scale(0.81,1)" text-anchor="middle">250</text>
<text class="tl" transform="translate(660.5,390.8) scale(0.81,1)" text-anchor="middle">300</text>
<text class="tl" transform="translate(679.5,390.8) scale(0.81,1)" text-anchor="middle">350</text>
<text class="tl" transform="translate(698.5,390.8) scale(0.81,1)" text-anchor="middle">400</text>
<text class="tl" transform="translate(717.5,390.8) scale(0.81,1)" text-anchor="middle">450</text>
<text class="tl" transform="translate(736.5,390.8) scale(0.81,1)" text-anchor="middle">500</text>
<text class="tl" transform="translate(524.9,385.4) scale(0.81,1)" text-anchor="end">0</text>
<text class="tl" transform="translate(524.9,368.4) scale(0.81,1)" text-anchor="end">100</text>
<text class="tl" transform="translate(524.9,351.4) scale(0.81,1)" text-anchor="end">200</text>
<text class="tl" transform="translate(524.9,334.4) scale(0.81,1)" text-anchor="end">300</text>
<text class="tl" transform="translate(524.9,317.4) scale(0.81,1)" text-anchor="end">400</text>
<text class="tl" transform="translate(524.9,300.4) scale(0.81,1)" text-anchor="end">500</text>
<text class="tl" transform="translate(524.9,283.4) scale(0.81,1)" text-anchor="end">600</text>
<text class="tl" transform="translate(524.9,266.4) scale(0.81,1)" text-anchor="end">700</text>
<text class="tl" transform="translate(524.9,249.4) scale(0.81,1)" text-anchor="end">800</text>
<text class="tl" transform="translate(524.9,232.4) scale(0.81,1)" text-anchor="end">900</text>
<text class="at" transform="translate(632,401.2) scale(0.945,1)" text-anchor="middle">EZH2 mRNA expression</text>
<text class="at" transform="translate(511.9,306.7) rotate(-90) scale(0.945,1)" text-anchor="middle">ECI2 mRNA expression</text>
<text class="an" x="687.85" y="236.1" textLength="47" lengthAdjust="spacingAndGlyphs">r² = 0.074, <tspan font-weight="bold">p= 0.047</tspan></text>
<g clip-path="url(#clipF)">
<polyline class="cb" points="527.5,344.1 530.29,343.93 534.15,343.72 538.75,343.47 543.79,343.18 548.95,342.86 553.92,342.5 558.37,342.12 562,341.7 564.7,341.3 566.72,340.94 568.29,340.57 569.64,340.16 570.99,339.66 572.56,339.03 574.59,338.22 577.3,337.2 580.59,335.97 584.21,334.59 588.14,333.05 592.36,331.37 596.88,329.56 601.66,327.62 606.71,325.57 612,323.4 617.52,321.14 623.28,318.78 629.29,316.3 635.58,313.7 642.17,310.95 649.07,308.05 656.3,304.97 663.9,301.7 672.48,297.96 682.3,293.63 692.8,288.98 703.44,284.24 713.68,279.68 722.97,275.53 730.76,272.06 736.5,269.5"/>
<polyline class="cb" points="527.5,363.9 529.25,363.23 531.59,362.31 534.38,361.21 537.48,360.01 540.73,358.76 544,357.55 547.13,356.44 550,355.5 552.51,354.71 554.75,354 556.87,353.36 559.01,352.76 561.29,352.2 563.86,351.67 566.85,351.14 570.4,350.6 574.41,350.05 578.7,349.49 583.31,348.95 588.26,348.42 593.57,347.93 599.28,347.49 605.42,347.1 612,346.8 619.27,346.59 627.3,346.48 635.88,346.44 644.79,346.44 653.82,346.47 662.76,346.48 671.39,346.47 679.5,346.4 687.52,346.27 695.82,346.11 704.15,345.92 712.22,345.72 719.76,345.53 726.5,345.35 732.17,345.21 736.5,345.1"/>
<line class="rl" x1="527.5" y1="354.89" x2="736.5" y2="307.55"/>
</g>
<g class="pt"><circle cx="576.14" cy="240.74" r="1.25"/><circle cx="556.76" cy="310.44" r="1.25"/><circle cx="568.16" cy="313.67" r="1.25"/><circle cx="575.76" cy="318.26" r="1.25"/><circle cx="559.42" cy="322.34" r="1.25"/><circle cx="562.46" cy="325.23" r="1.25"/><circle cx="552.2" cy="326.76" r="1.25"/><circle cx="575.76" cy="330.16" r="1.25"/><circle cx="575.76" cy="335.6" r="1.25"/><circle cx="561.32" cy="333.73" r="1.25"/><circle cx="560.18" cy="335.26" r="1.25"/><circle cx="558.28" cy="339.17" r="1.25"/><circle cx="563.6" cy="338.15" r="1.25"/><circle cx="568.92" cy="340.53" r="1.25"/><circle cx="570.82" cy="341.04" r="1.25"/><circle cx="562.46" cy="343.08" r="1.25"/><circle cx="557.9" cy="339.17" r="1.25"/><circle cx="558.66" cy="341.04" r="1.25"/><circle cx="562.08" cy="343.76" r="1.25"/><circle cx="562.84" cy="345.46" r="1.25"/><circle cx="561.7" cy="346.31" r="1.25"/><circle cx="557.9" cy="348.35" r="1.25"/><circle cx="555.24" cy="349.37" r="1.25"/><circle cx="561.7" cy="350.56" r="1.25"/><circle cx="563.22" cy="351.24" r="1.25"/><circle cx="569.3" cy="350.73" r="1.25"/><circle cx="552.2" cy="353.62" r="1.25"/><circle cx="554.48" cy="354.64" r="1.25"/><circle cx="556" cy="355.15" r="1.25"/><circle cx="557.52" cy="357.87" r="1.25"/><circle cx="567.4" cy="356.68" r="1.25"/><circle cx="563.6" cy="359.57" r="1.25"/><circle cx="551.06" cy="359.23" r="1.25"/><circle cx="552.2" cy="360.25" r="1.25"/><circle cx="551.06" cy="362.97" r="1.25"/><circle cx="553.34" cy="361.95" r="1.25"/><circle cx="555.24" cy="362.46" r="1.25"/><circle cx="557.52" cy="363.99" r="1.25"/><circle cx="554.86" cy="363.99" r="1.25"/><circle cx="552.2" cy="366.03" r="1.25"/><circle cx="554.48" cy="367.56" r="1.25"/><circle cx="553.34" cy="371.3" r="1.25"/><circle cx="550.68" cy="375.21" r="1.25"/><circle cx="567.78" cy="364.5" r="1.25"/><circle cx="625.92" cy="316.05" r="1.25"/><circle cx="718.26" cy="324.38" r="1.25"/><circle cx="599.32" cy="342.4" r="1.25"/><circle cx="599.32" cy="350.56" r="1.25"/><circle cx="604.26" cy="361.27" r="1.25"/><circle cx="609.96" cy="363.48" r="1.25"/></g>
</g>
</svg>
</body></html>
